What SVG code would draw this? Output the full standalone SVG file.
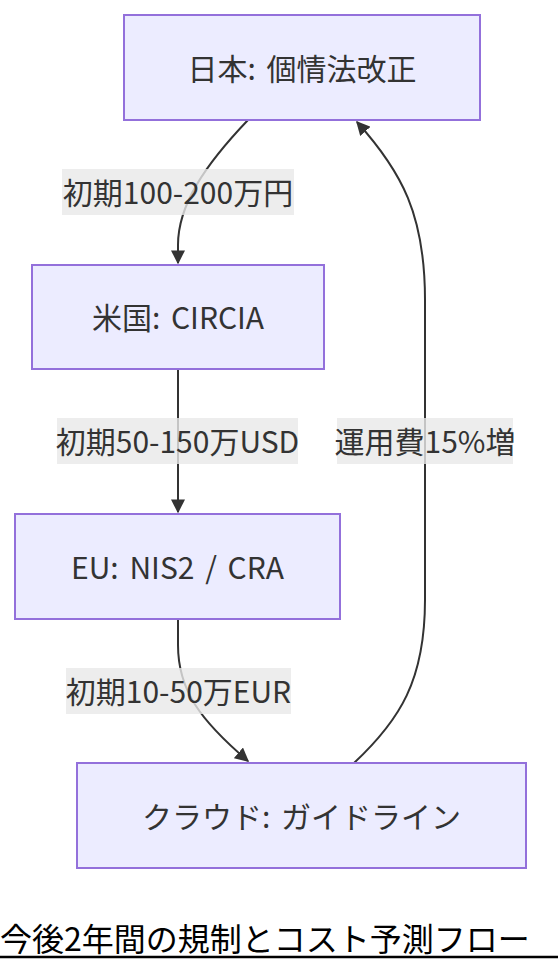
<svg xmlns="http://www.w3.org/2000/svg" width="558" height="972" viewBox="0 0 558 972">
<style>
.node rect{fill:#ECECFF;stroke:#9370DB;stroke-width:2}
.node text,.lbl text{font-family:"Noto Sans CJK JP","Noto Sans",sans-serif;font-size:30px;fill:#333333;text-anchor:middle;dominant-baseline:central}
.node text{word-spacing:4px}
.edge{fill:none;stroke:#333333;stroke-width:2}
.lbl rect{fill:#E8E8E8;fill-opacity:0.8}
.title{font-family:"Noto Sans CJK JP","Noto Sans",sans-serif;font-size:32px;fill:#000000}
</style>
<defs>
<marker id="arrow" viewBox="0 0 10 10" refX="9" refY="5" markerUnits="userSpaceOnUse" markerWidth="14" markerHeight="14" orient="auto">
<path d="M0,0 L10,5 L0,10 z" fill="#333333"/>
</marker>
</defs>
<g id="connectors">
<path class="edge" d="M248,120 C205,165 178,205 178,245 L178,263" marker-end="url(#arrow)"/>
<path class="edge" d="M178,369 L178,512" marker-end="url(#arrow)"/>
<path class="edge" d="M178,619 L178,645 C178,690 200,720 248,761" marker-end="url(#arrow)"/>
<path class="edge" d="M354,763 C400,720 425,680 425,600 L425,300 C425,215 402,172 357,122" marker-end="url(#arrow)"/>
</g>
<g id="edge-labels">
<g class="lbl" id="label-jp-us"><rect x="62" y="169" width="232" height="46"/><text x="178" y="191">初期100-200万円</text></g>
<g class="lbl" id="label-us-eu"><rect x="57" y="418" width="241" height="46"/><text x="177.5" y="440">初期50-150万USD</text></g>
<g class="lbl" id="label-eu-cloud"><rect x="66" y="668" width="225" height="46"/><text x="178.5" y="690">初期10-50万EUR</text></g>
<g class="lbl" id="label-cloud-jp"><rect x="337" y="418" width="176" height="46"/><text x="425" y="440">運用費15%増</text></g>
</g>
<g class="node" id="node-japan"><rect x="124" y="15" width="356" height="105"/><text x="302" y="66.5">日本: 個情法改正</text></g>
<g class="node" id="node-us"><rect x="32" y="265" width="292" height="104"/><text x="178" y="316">米国: CIRCIA</text></g>
<g class="node" id="node-eu"><rect x="15" y="514" width="325" height="105"/><text x="177.5" y="565.5">EU: NIS2 / CRA</text></g>
<g class="node" id="node-cloud"><rect x="77" y="763" width="449" height="105"/><text x="301.5" y="814.5">クラウド: ガイドライン</text></g>
<g id="title">
<text class="title" x="0" y="951">今後2年間の規制とコスト予測フロー</text>
<line x1="0" y1="957" x2="558" y2="957" stroke="#000000" stroke-width="2.5"/>
</g>
</svg>
